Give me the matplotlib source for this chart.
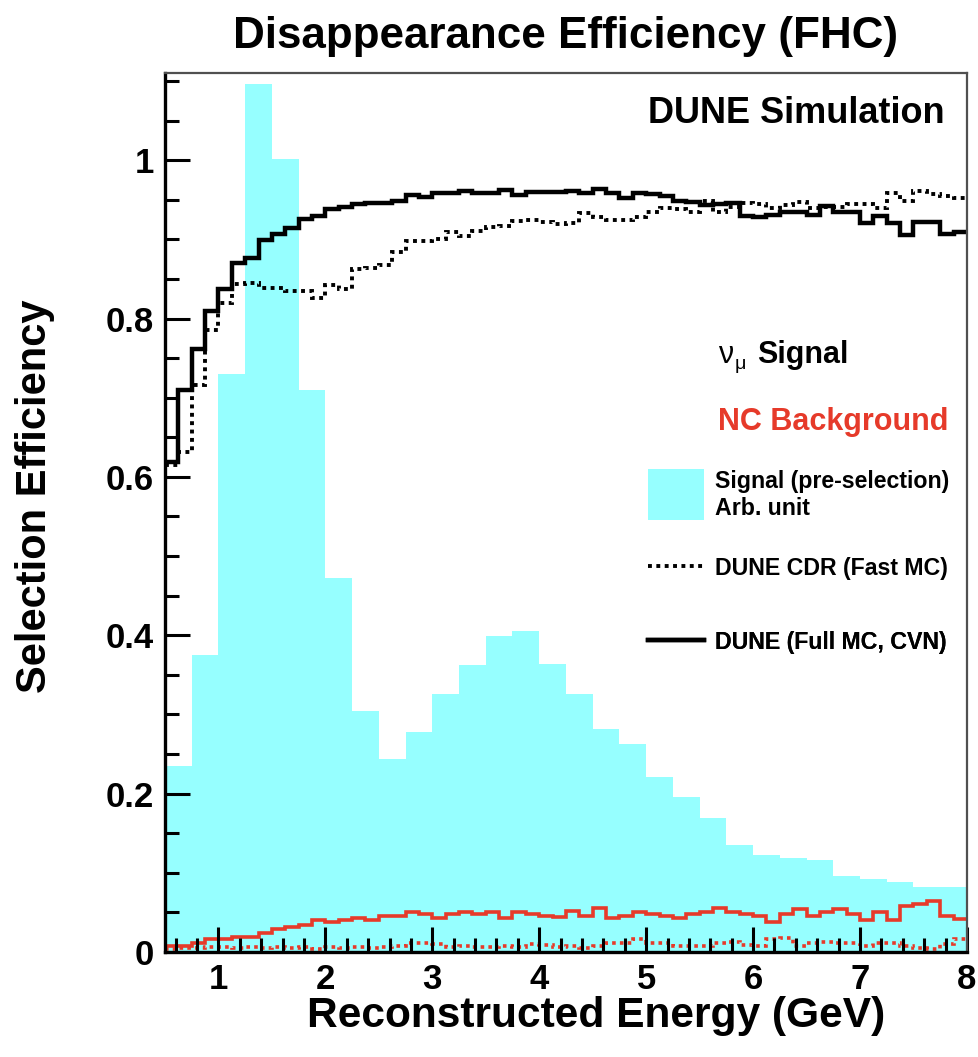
import numpy as np
import matplotlib.pyplot as plt
from matplotlib.ticker import MultipleLocator, FuncFormatter
from matplotlib.patches import Patch, Rectangle
from matplotlib.lines import Line2D
from matplotlib.legend_handler import HandlerPatch

plt.rcParams['font.family'] = ['Liberation Sans', 'DejaVu Sans']
plt.rcParams['font.weight'] = 'bold'

# signal before selection, 0.25 GeV bins (arb. units)
presel_edges = np.arange(0.5, 8.01, 0.25)
presel = [0.235, 0.375, 0.73, 1.096, 1.001, 0.71, 0.472, 0.305, 0.244, 0.278,
          0.326, 0.362, 0.399, 0.406, 0.364, 0.326, 0.282, 0.263, 0.221, 0.196,
          0.169, 0.135, 0.123, 0.119, 0.116, 0.096, 0.092, 0.089, 0.082, 0.082]

# efficiencies, 0.125 GeV bins
eff_edges = np.arange(0.5, 8.001, 0.125)
numu_cvn = [0.619, 0.710, 0.762, 0.810, 0.837, 0.870, 0.876, 0.899, 0.907, 0.914,
            0.926, 0.930, 0.938, 0.941, 0.944, 0.946, 0.946, 0.949, 0.956, 0.954,
            0.958, 0.958, 0.961, 0.959, 0.959, 0.962, 0.956, 0.960, 0.960, 0.960,
            0.961, 0.958, 0.964, 0.959, 0.952, 0.958, 0.957, 0.955, 0.949, 0.947,
            0.943, 0.944, 0.946, 0.929, 0.928, 0.931, 0.934, 0.934, 0.931, 0.942,
            0.935, 0.935, 0.920, 0.929, 0.921, 0.905, 0.922, 0.922, 0.907, 0.909]
numu_cdr = [0.615, 0.631, 0.716, 0.785, 0.819, 0.844, 0.845, 0.838, 0.838, 0.835,
            0.835, 0.826, 0.842, 0.837, 0.863, 0.864, 0.867, 0.884, 0.898, 0.898,
            0.900, 0.909, 0.904, 0.910, 0.915, 0.917, 0.923, 0.925, 0.922, 0.919,
            0.920, 0.933, 0.928, 0.925, 0.925, 0.928, 0.934, 0.940, 0.938, 0.934,
            0.949, 0.934, 0.941, 0.946, 0.945, 0.939, 0.943, 0.947, 0.940, 0.941,
            0.941, 0.945, 0.945, 0.940, 0.959, 0.949, 0.961, 0.957, 0.955, 0.952]
nc_cvn = [0.008, 0.008, 0.012, 0.016, 0.016, 0.019, 0.019, 0.024, 0.029, 0.031,
          0.034, 0.040, 0.038, 0.040, 0.043, 0.041, 0.045, 0.045, 0.050, 0.048,
          0.043, 0.048, 0.050, 0.048, 0.050, 0.043, 0.050, 0.048, 0.046, 0.044,
          0.052, 0.045, 0.055, 0.043, 0.045, 0.050, 0.048, 0.045, 0.043, 0.048,
          0.050, 0.055, 0.051, 0.048, 0.045, 0.038, 0.048, 0.054, 0.046, 0.050,
          0.054, 0.048, 0.040, 0.050, 0.041, 0.058, 0.061, 0.064, 0.045, 0.042]
nc_cdr = [0.004, 0.005, 0.005, 0.006, 0.006, 0.005, 0.006, 0.005, 0.006, 0.005,
          0.006, 0.004, 0.006, 0.005, 0.006, 0.005, 0.006, 0.007, 0.011, 0.011,
          0.010, 0.006, 0.007, 0.006, 0.006, 0.007, 0.006, 0.010, 0.009, 0.006,
          0.007, 0.005, 0.008, 0.011, 0.012, 0.017, 0.012, 0.011, 0.008, 0.007,
          0.008, 0.011, 0.013, 0.009, 0.008, 0.017, 0.018, 0.008, 0.012, 0.013,
          0.012, 0.012, 0.008, 0.012, 0.012, 0.007, 0.005, 0.004, 0.010, 0.017]

cyan = '#96ffff'
red = '#e63a2a'
dots = (0, (1, 1.15))

fig = plt.figure(figsize=(9.79, 10.57), dpi=100)
ax = fig.add_axes([0.1685, 0.0993, 0.8192, 0.8316])

ax.stairs(presel, presel_edges, fill=True, color=cyan, lw=0)
ax.stairs(nc_cdr, eff_edges, baseline=None, color=red, lw=2.6, linestyle=dots)
ax.stairs(nc_cvn, eff_edges, baseline=None, color=red, lw=2.6)
ax.stairs(numu_cdr, eff_edges, baseline=None, color='k', lw=2.8, linestyle=dots)
ax.stairs(numu_cvn, eff_edges, baseline=None, color='k', lw=3.2)

ax.set_xlim(0.5, 8)
ax.set_ylim(0, 1.11)
ax.set_xticks(range(1, 9))
ax.set_yticks([0, 0.2, 0.4, 0.6, 0.8, 1.0])
ax.xaxis.set_minor_locator(MultipleLocator(0.2))
ax.yaxis.set_minor_locator(MultipleLocator(0.05))
ax.yaxis.set_major_formatter(FuncFormatter(lambda v, p: '%g' % v))
ax.tick_params(which='both', direction='in', width=2.2, labelsize=25)
ax.tick_params(which='major', length=18, pad=8)
ax.tick_params(which='minor', length=10)
for s in ['left', 'bottom']:
    ax.spines[s].set_linewidth(2.4)
for s in ['top', 'right']:
    ax.spines[s].set_linewidth(1.6)
    ax.spines[s].set_color('#505050')

ax.set_title('Disappearance Efficiency (FHC)', fontsize=31.7, fontweight='bold', pad=18)
ax.set_xlabel('Reconstructed Energy (GeV)', fontsize=30.6, fontweight='bold')
ax.set_ylabel('Selection Efficiency', fontsize=30, fontweight='bold')
ax.xaxis.set_label_coords(0.537, -0.05)
ax.yaxis.set_label_coords(-0.137, 0.519)

ax.text(0.9726, 0.9545, 'DUNE Simulation', transform=ax.transAxes, fontsize=26,
        ha='right', va='center')

# legend headers
ax.text(0.6895, 0.670, '\u03bd', transform=ax.transAxes, fontsize=22,
        fontweight='normal', va='baseline')
ax.text(0.7107, 0.6635, '\u03bc', transform=ax.transAxes, fontsize=14,
        fontweight='normal', va='baseline')
ax.text(0.738, 0.670, 'Signal', transform=ax.transAxes, fontsize=22, va='baseline')
ax.text(0.6895, 0.603, 'NC Background', transform=ax.transAxes, fontsize=22,
        ha='left', va='center', color=red)


def tall_box(legend, orig_handle, xdescent, ydescent, width, height, fontsize):
    # taller key box, centred on the two text lines
    return Rectangle((-xdescent, -11.5), width, 36.7)


entries = [
    (Patch(facecolor=cyan, edgecolor='none'), 'Signal (pre-selection)\nArb. unit', 0.5199),
    (Line2D([], [], color='k', lw=2.8, linestyle=dots), 'DUNE CDR (Fast MC)', 0.4369),
    (Line2D([], [], color='k', lw=3.2), 'DUNE (Full MC, CVN)', 0.3527),
]
for handle, label, ypos in entries:
    leg = ax.legend([handle], [label], loc='center left', bbox_to_anchor=(0.6022, ypos),
                    frameon=False, prop={'size': 16.7, 'weight': 'bold'},
                    handlelength=2.41, handletextpad=0.5, borderpad=0, borderaxespad=0,
                    handler_map={Patch: HandlerPatch(patch_func=tall_box)})
    ax.add_artist(leg)

fig.savefig('out.png', dpi=100)
